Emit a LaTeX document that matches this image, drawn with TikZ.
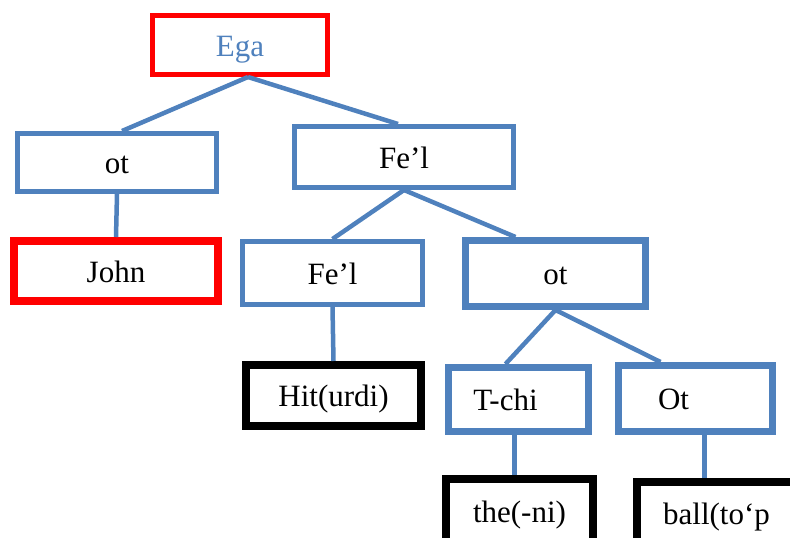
\documentclass[tikz,border=0pt]{standalone}
\usepackage{fontspec}
\setmainfont{Liberation Serif}
\usetikzlibrary{positioning}
\definecolor{wordBlue}{RGB}{79,129,189}
\tikzstyle{treeNode}=[draw,rectangle,fill=white,inner sep=0pt,text height=25pt,text depth=3pt,font=\fontsize{31}{36}\selectfont]
\tikzstyle{blueBox}=[treeNode,draw=wordBlue,line width=5pt]
\tikzstyle{thickBlueBox}=[treeNode,draw=wordBlue,line width=7pt]
\tikzstyle{redBox}=[treeNode,draw=red]
\tikzstyle{blackBox}=[treeNode,draw=black,line width=8pt]
\tikzstyle{treeEdge}=[draw=wordBlue,line width=4.5pt]

\begin{document}
\begin{tikzpicture}[x=1pt,y=-1pt]
	\useasboundingbox (0,0) rectangle (790,538);
	\clip (0,0) rectangle (790,538);

	\node[redBox, line width=5pt, text=wordBlue, minimum width=175pt, minimum height=59pt] (ega) at (240,45) {Ega};

	\node[blueBox, minimum width=199pt, minimum height=58pt] (otL) at (117,162.5) {ot};
	\node[blueBox, minimum width=219pt, minimum height=61pt] (felT) at (404,157) {Fe’l};

	\node[redBox, line width=8pt, minimum width=204pt, minimum height=60pt] (john) at (116,271) {John};
	\node[blueBox, minimum width=180pt, minimum height=63pt] (felM) at (332.5,273) {Fe’l};
	\node[thickBlueBox, minimum width=180pt, minimum height=66pt] (otM) at (555.5,273.5) {ot};

	\node[blackBox, minimum width=175pt, minimum height=61pt] (hit) at (333.5,395.5) {Hit(urdi)};
	\node[thickBlueBox, minimum width=140pt, minimum height=64pt] (tchi) at (518.5,399.5) {T-chi\kern26pt};
	\node[thickBlueBox, minimum width=154pt, minimum height=66pt] (otR) at (695.5,398.5) {Ot\kern44pt};

	\node[blackBox, minimum width=147pt, minimum height=64pt] (the) at (519.5,511) {the(-ni)};
	\node[blackBox, minimum width=159pt, minimum height=62pt] (ball) at (716.5,513) {ball(to‘p};

	\draw[treeEdge] ([xshift=8pt]ega.south) -- ([xshift=5pt]otL.north);
	\draw[treeEdge] ([xshift=8pt]ega.south) -- ([xshift=-6pt]felT.north);

	\draw[treeEdge] (otL.south) -- (john.north);

	\draw[treeEdge] (felT.south) -- (felM.north);
	\draw[treeEdge] (felT.south) -- ([xshift=-40pt]otM.north);

	\draw[treeEdge] (felM.south) -- (hit.north);

	\draw[treeEdge] (otM.south) -- ([xshift=-13pt]tchi.north);
	\draw[treeEdge] (otM.south) -- ([xshift=-35pt]otR.north);

	\draw[treeEdge] ([xshift=-4pt]tchi.south) -- ([xshift=-4pt]tchi.south |- the.north);
	\draw[treeEdge] ([xshift=9pt]otR.south) -- ([xshift=9pt]otR.south |- ball.north);
\end{tikzpicture}
\end{document}
